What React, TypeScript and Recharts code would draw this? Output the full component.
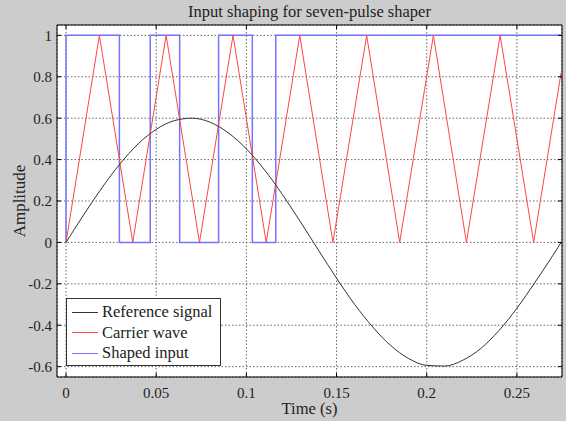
import { LineChart, Line, XAxis, YAxis, CartesianGrid, Legend, ReferenceArea } from "recharts"

const FONT = "'Liberation Serif', 'Times New Roman', serif"

// plot box in px (MATLAB style axes)
const PLOT_LEFT = 57
const PLOT_RIGHT = 562
const PLOT_TOP = 25
const PLOT_BOTTOM = 377

const X_TICKS = [0, 0.05, 0.1, 0.15, 0.2, 0.25]
const Y_TICKS = [-0.6, -0.4, -0.2, 0, 0.2, 0.4, 0.6, 0.8, 1]

// reference signal
const refTime = [0, 0.01, 0.02, 0.03, 0.04, 0.05, 0.06, 0.07, 0.08, 0.09, 0.1, 0.11, 0.12, 0.13, 0.14, 0.15, 0.16, 0.17, 0.18, 0.19, 0.2, 0.21, 0.22, 0.23, 0.24, 0.25, 0.26, 0.27, 0.2745]
const refValue = [0, 0.136, 0.265, 0.38, 0.476, 0.546, 0.588, 0.6, 0.58, 0.529, 0.452, 0.351, 0.231, 0.099, -0.038, -0.173, -0.299, -0.408, -0.498, -0.561, -0.594, -0.597, -0.569, -0.512, -0.426, -0.318, -0.193, -0.062, 0]

// carrier wave vertices
const carrierTime = [0, 0.0185, 0.037, 0.0555, 0.074, 0.0926, 0.111, 0.1296, 0.148, 0.1667, 0.185, 0.2037, 0.222, 0.2407, 0.2593, 0.2745]
const carrierValue = [0, 1, 0, 1, 0, 1, 0, 1, 0, 1, 0, 1, 0, 1, 0, 0.82]

// shaped input switching instants (step after)
const shapedTime = [0, 0, 0.0296, 0.0467, 0.063, 0.0846, 0.1033, 0.1163, 0.2745]
const shapedValue = [0, 1, 0, 1, 0, 1, 0, 1, 1]

const SERIES = [
  { name: "Reference signal", color: "#333333" },
  { name: "Carrier wave", color: "#ff4545" },
  { name: "Shaped input", color: "#7474ff" },
]

const refData = refTime.map((t, i) => ({ t, v: refValue[i] }))
const carrierData = carrierTime.map((t, i) => ({ t, v: carrierValue[i] }))
const shapedData = shapedTime.map((t, i) => ({ t, v: shapedValue[i] }))

function XTick({ x, y, payload }: any) {
  return (
    <g>
      <line x1={x} x2={x} y1={PLOT_BOTTOM} y2={PLOT_BOTTOM - 4} stroke="#000" />
      <line x1={x} x2={x} y1={PLOT_TOP} y2={PLOT_TOP + 4} stroke="#000" />
      <text x={x} y={y} dy="0.71em" textAnchor="middle" fontSize={15} fontFamily={FONT} fill="#222">
        {payload.value}
      </text>
    </g>
  )
}

function YTick({ x, y, payload }: any) {
  return (
    <g>
      <line x1={PLOT_LEFT} x2={PLOT_LEFT + 4} y1={y} y2={y} stroke="#000" />
      <line x1={PLOT_RIGHT} x2={PLOT_RIGHT - 4} y1={y} y2={y} stroke="#000" />
      <text x={x} y={y} dy="0.355em" textAnchor="end" fontSize={15} fontFamily={FONT} fill="#222">
        {payload.value}
      </text>
    </g>
  )
}

function LegendBox() {
  return (
    <div
      style={{
        boxSizing: "border-box",
        width: 155,
        height: 68,
        background: "#fff",
        border: "1px solid #333",
        padding: "3px 0 0 5px",
        fontFamily: FONT,
        fontSize: 16.5,
        color: "#222",
      }}
    >
      {SERIES.map((s) => (
        <div key={s.name} style={{ display: "flex", alignItems: "center", height: 20.5 }}>
          <span style={{ display: "inline-block", width: 26, height: 1, background: s.color, marginRight: 4 }} />
          <span>{s.name}</span>
        </div>
      ))}
    </div>
  )
}

export default function App() {
  return (
    <div style={{ position: "absolute", left: 0, top: 0, width: 566, height: 421, background: "#cccccc" }}>
      <div
        style={{
          position: "absolute",
          left: PLOT_LEFT,
          width: PLOT_RIGHT - PLOT_LEFT,
          top: 2,
          textAlign: "center",
          fontFamily: FONT,
          fontSize: 16.5,
          color: "#222",
        }}
      >
        Input shaping for seven-pulse shaper
      </div>
      <LineChart width={566} height={421} margin={{ top: PLOT_TOP, right: 566 - PLOT_RIGHT, bottom: 0, left: 0 }}>
        <CartesianGrid stroke="#666" strokeDasharray="1.5 2" fill="#fff" fillOpacity={1} />
        <XAxis
          dataKey="t"
          type="number"
          domain={[-0.005, 0.275]}
          allowDataOverflow
          ticks={X_TICKS}
          interval={0}
          height={421 - PLOT_BOTTOM}
          axisLine={false}
          tickLine={false}
          tickSize={0}
          tickMargin={10}
          tick={<XTick />}
        />
        <YAxis
          type="number"
          domain={[-0.65, 1.05]}
          allowDataOverflow
          ticks={Y_TICKS}
          interval={0}
          width={PLOT_LEFT}
          axisLine={false}
          tickLine={false}
          tickSize={0}
          tickMargin={5}
          tick={<YTick />}
        />
        <Line data={shapedData} dataKey="v" type="stepAfter" stroke={SERIES[2].color} strokeWidth={1.5} dot={false} isAnimationActive={false} />
        <Line data={carrierData} dataKey="v" type="linear" stroke={SERIES[1].color} strokeWidth={1} dot={false} isAnimationActive={false} />
        <Line data={refData} dataKey="v" type="monotone" stroke={SERIES[0].color} strokeWidth={1} dot={false} isAnimationActive={false} />
        <ReferenceArea x1={-0.005} x2={0.275} y1={-0.65} y2={1.05} fill="none" stroke="#000" strokeWidth={1} />
        <Legend
          layout="vertical"
          align="center"
          verticalAlign="middle"
          content={() => <LegendBox />}
          wrapperStyle={{ left: 66, top: 298, width: 155, height: 68 }}
        />
      </LineChart>
      <div
        style={{
          position: "absolute",
          left: PLOT_LEFT,
          width: PLOT_RIGHT - PLOT_LEFT,
          top: 399,
          textAlign: "center",
          fontFamily: FONT,
          fontSize: 16.5,
          color: "#222",
        }}
      >
        Time (s)
      </div>
      <div
        style={{
          position: "absolute",
          left: 20,
          top: (PLOT_TOP + PLOT_BOTTOM) / 2,
          transform: "translate(-50%, -50%) rotate(-90deg)",
          fontFamily: FONT,
          fontSize: 17,
          color: "#222",
          whiteSpace: "nowrap",
        }}
      >
        Amplitude
      </div>
    </div>
  )
}
